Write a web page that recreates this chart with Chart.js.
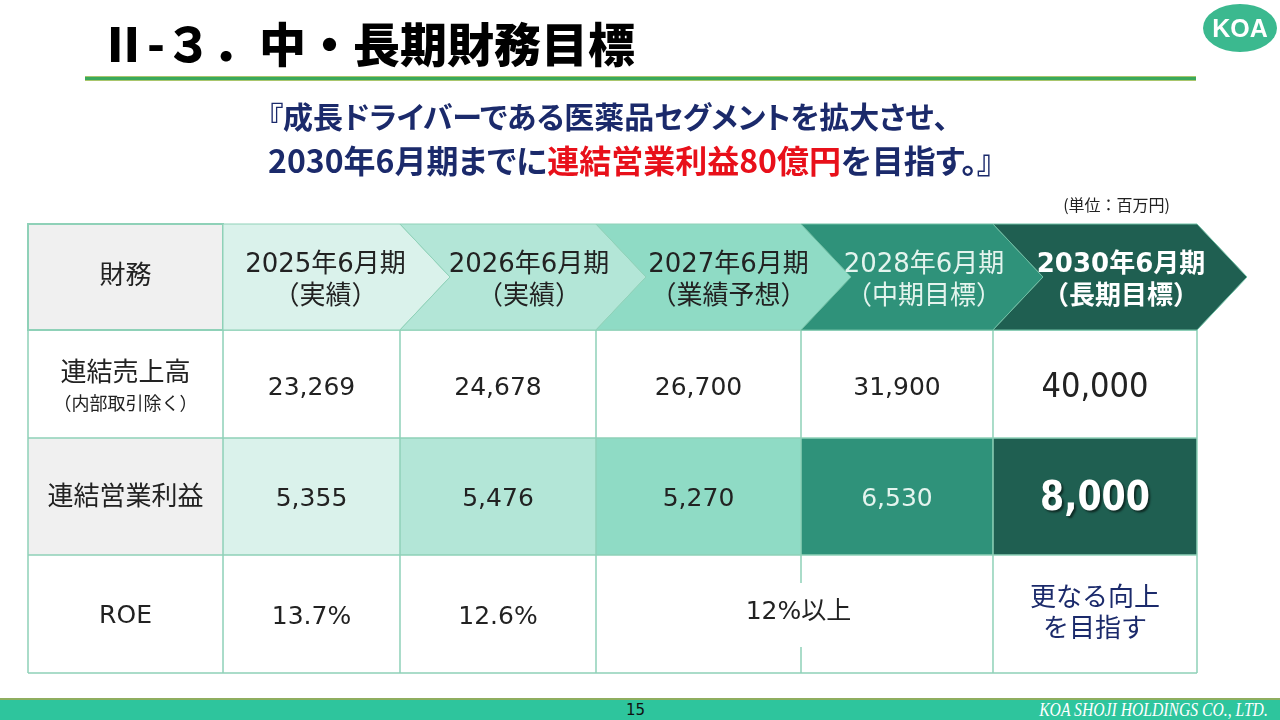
<!DOCTYPE html>
<html lang="ja"><head><meta charset="utf-8">
<script src="https://cdn.jsdelivr.net/npm/chart.js@4.4.1/dist/chart.umd.min.js"></script>
<style>
html,body{margin:0;padding:0;width:1280px;height:720px;overflow:hidden;background:#fff;}
#wrap{position:relative;width:1280px;height:720px;}
#c{position:absolute;left:0;top:0;}
.t{position:absolute;white-space:nowrap;font-family:"Noto Sans CJK JP",sans-serif;}
#title{left:100px;top:16px;font-size:47px;line-height:52px;font-weight:900;color:#000;}
#rule{position:absolute;left:85px;top:76px;width:1111px;height:5px;background:linear-gradient(#a9c66d 0,#a9c66d 1px,#3aa95b 1px,#3aa95b 4px,#a9c66d 4px);}
#logo{position:absolute;left:1203px;top:4px;width:74px;height:48px;border-radius:50%;background:#3bb98f;color:#fff;font-family:"Liberation Sans",Arial,sans-serif;font-weight:700;font-size:25px;line-height:48px;text-align:center;}
.sub{left:268px;line-height:40px;font-weight:700;color:#1b2a6b;font-feature-settings:"palt";}
#sub1{top:95px;font-size:30px;}
#sub2{top:139px;font-size:32px;}
.red{color:#e8101a;}
#unit{right:110px;top:194px;font-size:16px;line-height:20px;color:#222;}
#fline{position:absolute;left:0;top:698px;width:1280px;height:2px;background:#8fae5f;}
#footer{position:absolute;left:0;top:700px;width:1280px;height:20px;background:#2ec59d;}
#page{position:absolute;left:626px;top:0;font-family:"DejaVu Sans",sans-serif;font-size:15px;line-height:20px;color:#111;}
#corp{position:absolute;right:12px;top:0;font-family:"Liberation Serif",serif;font-style:italic;font-size:18px;line-height:20px;color:#fff;transform:scaleX(0.87);transform-origin:right center;}
</style></head><body>
<div id="wrap">
<canvas id="c" width="1280" height="720"></canvas>
<div class="t" id="title">Ⅱ-３．中・長期財務目標</div>
<div id="rule"></div>
<div id="logo">KOA</div>
<div class="t sub" id="sub1">『成長ドライバーである医薬品セグメントを拡大させ、</div>
<div class="t sub" id="sub2">2030年6月期までに<span class="red">連結営業利益80億円</span>を目指す。』</div>
<div class="t" id="unit">(単位：百万円)</div>
<div id="fline"></div>
<div id="footer"><span id="page">15</span><span id="corp">KOA SHOJI HOLDINGS CO., LTD.</span></div>
</div>
<script>
// ---- data ----
const headerLabel = '財務';
const periods = ['2025年6月期', '2026年6月期', '2027年6月期', '2028年6月期', '2030年6月期'];
const periodNotes = ['（実績）', '（実績）', '（業績予想）', '（中期目標）', '（長期目標）'];
const rowLabels = ['連結売上高', '連結営業利益', 'ROE'];
const rowSubLabels = ['（内部取引除く）', '', ''];
const netSales = [23269, 24678, 26700, 31900, 40000];
const operatingProfit = [5355, 5476, 5270, 6530, 8000];
const roeActual = [13.7, 12.6];
const roeMidTerm = '12%以上';
const roeLongTerm = ['更なる向上', 'を目指す'];

// ---- layout / style (not data) ----
const COL_EDGES = [0, 1.0009, 1.9093, 2.9153, 3.9675, 4.9529, 6];
const ROW_EDGES = [0, 0.9443, 1.9065, 2.9488, 4];
const TIP = 50;
const GRID = '#8fd1b8';
const TINTS = ['#daf2eb', '#b3e6d7', '#8fdbc5', '#2f927a', '#1f5f51'];
const HEAD_TEXT = ['#222', '#222', '#222', '#e4f4ee', '#ffffff'];
const HEAD_SHIFT = [14, 31, 30, 27, 26];
const JP = '"DejaVu Sans","Noto Sans CJK JP",sans-serif';

const fmt = v => v.toLocaleString('en-US');

function scaledText(ctx, text, x, y, sx) {
  ctx.save();
  ctx.translate(x, y);
  ctx.scale(sx, 1);
  ctx.fillText(text, 0, 0);
  ctx.restore();
}

const tablePlugin = {
  id: 'koaTable',
  afterDraw(chart) {
    const {ctx, scales: {x, y}} = chart;
    const X = v => x.getPixelForValue(v);
    const Y = v => y.getPixelForValue(v);
    const L = c => X(COL_EDGES[c]), R = c => X(COL_EDGES[c + 1]);
    const T = r => Y(ROW_EDGES[r]), B = r => Y(ROW_EDGES[r + 1]);
    const CX = c => (L(c) + R(c)) / 2;
    const CY = r => (T(r) + B(r)) / 2;
    ctx.save();

    // body cell fills
    for (let r = 1; r <= 3; r++) {
      for (let c = 0; c <= 5; c++) {
        let fill = '#ffffff';
        if (r === 2) fill = c === 0 ? '#f0f0f0' : TINTS[c - 1];
        ctx.fillStyle = fill;
        ctx.fillRect(L(c), T(r), R(c) - L(c), B(r) - T(r));
      }
    }
    // grid
    ctx.strokeStyle = GRID; ctx.lineWidth = 1.5;
    ctx.beginPath();
    for (let r = 1; r <= 4; r++) { ctx.moveTo(L(0), Y(ROW_EDGES[r])); ctx.lineTo(R(5), Y(ROW_EDGES[r])); }
    for (let c = 0; c <= 6; c++) { ctx.moveTo(X(COL_EDGES[c]), T(1)); ctx.lineTo(X(COL_EDGES[c]), B(3)); }
    ctx.stroke();

    // header label cell
    ctx.fillStyle = '#f0f0f0';
    ctx.fillRect(L(0), T(0), R(0) - L(0), B(0) - T(0));
    ctx.lineWidth = 2; ctx.strokeStyle = GRID;
    ctx.strokeRect(L(0), T(0), R(0) - L(0), B(0) - T(0));

    // chevrons
    const yT = T(0), yB = B(0), yM = (yT + yB) / 2;
    for (let c = 1; c <= 5; c++) {
      ctx.beginPath();
      ctx.moveTo(L(c), yT);
      ctx.lineTo(R(c), yT);
      ctx.lineTo(R(c) + TIP, yM);
      ctx.lineTo(R(c), yB);
      ctx.lineTo(L(c), yB);
      if (c > 1) ctx.lineTo(L(c) + TIP, yM);
      ctx.closePath();
      ctx.fillStyle = TINTS[c - 1];
      ctx.fill();
      ctx.lineWidth = 1; ctx.strokeStyle = c >= 4 ? '#6fbfa4' : GRID;
      ctx.stroke();
    }

    ctx.textAlign = 'center'; ctx.textBaseline = 'middle';
    // header texts
    ctx.fillStyle = '#222'; ctx.font = '26px ' + JP;
    ctx.fillText(headerLabel, CX(0), yM);
    for (let c = 1; c <= 5; c++) {
      const tx = CX(c) + HEAD_SHIFT[c - 1];
      ctx.fillStyle = HEAD_TEXT[c - 1];
      ctx.font = (c === 5 ? 'bold ' : '') + '26px ' + JP;
      ctx.fillText(periods[c - 1], tx, yM - 12);
      ctx.fillText(periodNotes[c - 1], tx, yM + 20);
    }

    // row labels
    ctx.fillStyle = '#222';
    ctx.font = '26px ' + JP;
    ctx.fillText(rowLabels[0], CX(0), CY(1) - 10);
    ctx.font = '18px ' + JP;
    ctx.fillText(rowSubLabels[0], CX(0), CY(1) + 21);
    ctx.font = '26px ' + JP;
    ctx.fillText(rowLabels[1], CX(0), CY(2) + 2);
    ctx.font = '25px ' + JP;
    ctx.fillText(rowLabels[2], CX(0), CY(3) + 2);

    // net sales
    netSales.forEach((v, i) => {
      ctx.fillStyle = '#222';
      if (i === 4) {
        ctx.font = '34px ' + JP;
        scaledText(ctx, fmt(v), CX(i + 1), CY(1) + 4, 0.9);
      } else {
        ctx.font = '25px ' + JP;
        ctx.fillText(fmt(v), CX(i + 1), CY(1) + 4);
      }
    });
    // operating profit
    operatingProfit.forEach((v, i) => {
      if (i === 4) {
        ctx.save();
        ctx.shadowColor = 'rgba(0,0,0,0.55)'; ctx.shadowOffsetX = 2; ctx.shadowOffsetY = 2; ctx.shadowBlur = 2;
        ctx.fillStyle = '#ffffff'; ctx.font = 'bold 40px ' + JP;
        scaledText(ctx, fmt(v), CX(i + 1), CY(2) + 3, 0.87);
        ctx.restore();
      } else {
        ctx.fillStyle = i === 3 ? '#e4f4ee' : '#222';
        ctx.font = '25px ' + JP;
        ctx.fillText(fmt(v), CX(i + 1), CY(2) + 3);
      }
    });
    // ROE
    ctx.fillStyle = '#222'; ctx.font = '25px ' + JP;
    roeActual.forEach((v, i) => ctx.fillText(v.toFixed(1) + '%', CX(i + 1), CY(3) + 3));
    const mx = (L(3) + R(4)) / 2;
    ctx.fillStyle = '#ffffff';
    ctx.fillRect(mx - 70, CY(3) - 31, 140, 64);
    ctx.fillStyle = '#222';
    ctx.fillText(roeMidTerm, mx + 4, CY(3) - 2);
    ctx.fillStyle = '#1b2a6b'; ctx.font = '26px ' + JP;
    ctx.fillText(roeLongTerm[0], CX(5), CY(3) - 15);
    ctx.fillText(roeLongTerm[1], CX(5), CY(3) + 16);
    ctx.restore();
  }
};

new Chart(document.getElementById('c'), {
  type: 'scatter',
  data: { datasets: [{ data: [], pointRadius: 0 }] },
  options: {
    responsive: false,
    animation: false,
    devicePixelRatio: 1,
    layout: { padding: { left: 28, right: 83, top: 224, bottom: 47 } },
    scales: {
      x: { type: 'linear', min: 0, max: 6, display: false },
      y: { type: 'linear', min: 0, max: 4, reverse: true, display: false }
    },
    plugins: { legend: { display: false }, tooltip: { enabled: false } }
  },
  plugins: [tablePlugin]
});
</script>
</body></html>
